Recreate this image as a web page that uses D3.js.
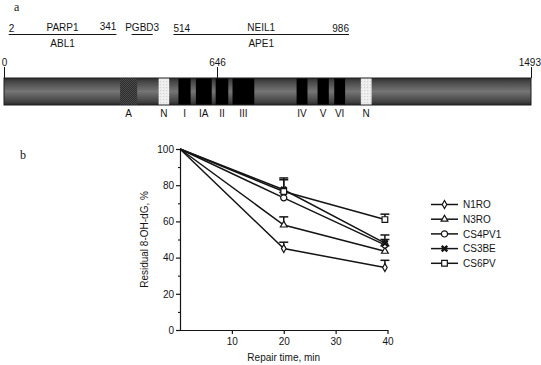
<!DOCTYPE html>
<html>
<head>
<meta charset="utf-8">
<script src="https://cdn.jsdelivr.net/npm/d3@7"></script>
<style>
  body { margin: 0; background: #fff; }
  svg { display: block; font-family: "Liberation Sans", Arial, sans-serif; }
</style>
</head>
<body>
<script>
// ---- panel a: protein map ----
const protLength = 1493;
const protTicks = [0, 646, 1493];
// segments in amino-acid coordinates
const segNames = ['A', 'N', 'I', 'IA', 'II', 'III', 'IV', 'V', 'VI', 'N'];
const segStart = [352, 469, 529, 582, 642, 686, 851, 905, 948, 1019];
const segEnd   = [404, 501, 566, 630, 675, 742, 879, 934, 976, 1049];
const segKind  = ['hatch', 'light', 'black', 'black', 'black', 'black', 'black', 'black', 'black', 'light'];
// interaction regions drawn above the bar
const partnerStart = [2, 387, 514];
const partnerEnd   = [341, 451, 986];
const partnerTop   = ['PARP1', 'PGBD3', 'NEIL1'];
const partnerBottom = ['ABL1', '', 'APE1'];
const partnerShowEnds = [true, false, true];

// ---- panel b: repair kinetics ----
const times = [0, 20, 39.5];
const seriesNames = ['N1RO', 'N3RO', 'CS4PV1', 'CS3BE', 'CS6PV'];
const n1ro   = [100, 45, 34.5];
const n3ro   = [100, 58, 43.5];
const cs4pv1 = [100, 73, 47];
const cs3be  = [100, 77.5, 48];
const cs6pv  = [100, 76.5, 61];
const errN1ro = [0, 3.5, 4];
const errN3ro = [0, 4.5, 3];
const errCs4pv1 = [0, 3, 3];
const errCs3be = [0, 6.5, 4.5];
const errCs6pv = [0, 6.5, 3];
const xTicks = [10, 20, 30, 40];
const yTicks = [0, 20, 40, 60, 80, 100];

const ink = '#141414';
const svg = d3.select('body').append('svg').attr('width', 541).attr('height', 365);

const defs = svg.append('defs');
const grad = defs.append('linearGradient').attr('id', 'barGrad')
  .attr('x1', 0).attr('y1', 0).attr('x2', 0).attr('y2', 1);
[[0, '#2b2b2b'], [0.12, '#444'], [0.5, '#757575'], [0.88, '#424242'], [1, '#262626']]
  .forEach(([o, c]) => grad.append('stop').attr('offset', o).attr('stop-color', c));
const hatch = defs.append('pattern').attr('id', 'hatch')
  .attr('width', 2).attr('height', 2).attr('patternUnits', 'userSpaceOnUse');
hatch.append('rect').attr('width', 2).attr('height', 2).attr('fill', '#2e2e2e');
hatch.append('rect').attr('width', 1).attr('height', 1).attr('fill', '#4a4a4a');
hatch.append('rect').attr('x', 1).attr('y', 1).attr('width', 1).attr('height', 1).attr('fill', '#4a4a4a');
const speck = defs.append('pattern').attr('id', 'speck')
  .attr('width', 3).attr('height', 3).attr('patternUnits', 'userSpaceOnUse');
speck.append('rect').attr('width', 3).attr('height', 3).attr('fill', '#ececec');
speck.append('rect').attr('x', 1).attr('y', 0).attr('width', 1).attr('height', 1).attr('fill', '#d4d4d4');
speck.append('rect').attr('x', 0).attr('y', 2).attr('width', 1).attr('height', 1).attr('fill', '#fafafa');

// map is not drawn strictly to scale in the original, so piecewise
const px = d3.scaleLinear().domain([0, 646, 986, protLength]).range([4, 217, 349, 531]);
const barTop = 78, barBottom = 105;

svg.append('text').attr('x', 14).attr('y', 11)
  .attr('font-family', '"Liberation Serif", "DejaVu Serif", serif')
  .attr('font-size', 12).attr('fill', ink).text('a');

const partners = svg.append('g').attr('font-size', 10).attr('fill', ink);
partnerStart.forEach((s, i) => {
  const x0 = px(s), x1 = px(partnerEnd[i]);
  const lx0 = i === 0 ? x0 + 4 : x0;
  partners.append('line').attr('x1', lx0).attr('x2', x1).attr('y1', 34.5).attr('y2', 34.5)
    .attr('stroke', ink).attr('stroke-width', 1);
  partners.append('text').attr('x', (lx0 + x1) / 2).attr('y', 31)
    .attr('text-anchor', 'middle').text(partnerTop[i]);
  if (partnerBottom[i]) {
    partners.append('text').attr('x', (lx0 + x1) / 2).attr('y', 47)
      .attr('text-anchor', 'middle').text(partnerBottom[i]);
  }
  if (partnerShowEnds[i]) {
    partners.append('text').attr('x', lx0).attr('y', 31.5).text(s);
    partners.append('text').attr('x', x1).attr('y', i === 0 ? 30 : 31.5)
      .attr('text-anchor', 'end').text(partnerEnd[i]);
  }
});

// bar body
svg.append('rect').attr('x', px(0)).attr('y', barTop)
  .attr('width', px(protLength) - px(0)).attr('height', barBottom - barTop)
  .attr('fill', 'url(#barGrad)').attr('stroke', '#1e1e1e').attr('stroke-width', 1);

const fillFor = { hatch: 'url(#hatch)', light: 'url(#speck)', black: '#000' };
svg.append('g').selectAll('rect')
  .data(segNames.map((n, i) => ({ n, s: segStart[i], e: segEnd[i], k: segKind[i] })))
  .join('rect')
  .attr('x', d => px(d.s)).attr('y', barTop + 0.5)
  .attr('width', d => px(d.e) - px(d.s)).attr('height', barBottom - barTop - 1)
  .attr('fill', d => fillFor[d.k]);

svg.append('g').attr('font-size', 10).attr('fill', ink)
  .selectAll('text')
  .data(segNames.map((n, i) => ({ n, s: segStart[i], e: segEnd[i] })))
  .join('text')
  .attr('x', d => (px(d.s) + px(d.e)) / 2).attr('y', 116.5)
  .attr('text-anchor', 'middle').text(d => d.n);

// position ticks above the bar
const pt = svg.append('g').attr('font-size', 10).attr('fill', ink);
protTicks.forEach((t, i) => {
  const x = Math.round(px(t)) + 0.5;
  pt.append('line').attr('x1', x).attr('x2', x).attr('y1', 67).attr('y2', barTop)
    .attr('stroke', ink).attr('stroke-width', 1);
  pt.append('text').attr('x', i === protTicks.length - 1 ? 541 : x).attr('y', 65.5)
    .attr('text-anchor', i === 0 ? 'middle' : (i === protTicks.length - 1 ? 'end' : 'middle'))
    .text(t);
});

// ---- panel b ----
svg.append('text').attr('x', 20).attr('y', 159)
  .attr('font-family', '"Liberation Serif", "DejaVu Serif", serif')
  .attr('font-size', 12).attr('fill', ink).text('b');

const x = d3.scaleLinear().domain([0, 40]).range([180, 387.5]);
const y = d3.scaleLinear().domain([0, 100]).range([330, 149]);

const gy = svg.append('g').attr('transform', `translate(${x(0)},0)`)
  .call(d3.axisLeft(y).tickValues(yTicks).tickSize(4).tickPadding(2));
svg.append('g').attr('transform', `translate(${x(0)},0)`)
  .call(d3.axisLeft(y).tickValues([10, 30, 50, 70, 90]).tickSize(2).tickFormat(''))
  .call(g => g.select('.domain').remove());
const gx = svg.append('g').attr('transform', `translate(0,${y(0)})`)
  .call(d3.axisBottom(x).tickValues(xTicks).tickSize(4).tickPadding(4).tickSizeOuter(0));
[gy, gx].forEach(g => {
  g.selectAll('text').attr('font-size', 10).attr('fill', ink)
    .attr('font-family', '"Liberation Sans", Arial, sans-serif');
  g.selectAll('line,path').attr('stroke', ink).attr('stroke-width', 1.2);
});

svg.append('text').attr('transform', `translate(148,${y(50)}) rotate(-90)`)
  .attr('text-anchor', 'middle').attr('font-size', 10).attr('fill', ink)
  .text('Residual 8-OH-dG, %');
svg.append('text').attr('x', x(20)).attr('y', 361)
  .attr('text-anchor', 'middle').attr('font-size', 10).attr('fill', ink)
  .text('Repair time, min');

const series = [
  { name: seriesNames[0], v: n1ro, e: errN1ro, sym: d3.symbolDiamond, size: 18 },
  { name: seriesNames[1], v: n3ro, e: errN3ro, sym: d3.symbolTriangle, size: 20 },
  { name: seriesNames[2], v: cs4pv1, e: errCs4pv1, sym: d3.symbolCircle, size: 30 },
  { name: seriesNames[3], v: cs3be, e: errCs3be, sym: d3.symbolTimes, size: 22 },
  { name: seriesNames[4], v: cs6pv, e: errCs6pv, sym: d3.symbolSquare, size: 32 }
];

const line = d3.line().x((d, i) => x(times[i])).y(d => y(d));
const plot = svg.append('g');

// error bars (upper only)
series.forEach(s => {
  s.v.forEach((v, i) => {
    if (!s.e[i]) return;
    const cx = x(times[i]);
    plot.append('line').attr('x1', cx).attr('x2', cx).attr('y1', y(v)).attr('y2', y(v + s.e[i]))
      .attr('stroke', ink).attr('stroke-width', 1.5);
    plot.append('line').attr('x1', cx - 4.5).attr('x2', cx + 4.5)
      .attr('y1', y(v + s.e[i])).attr('y2', y(v + s.e[i]))
      .attr('stroke', ink).attr('stroke-width', 1.5);
  });
});

series.forEach(s => {
  plot.append('path').attr('d', line(s.v)).attr('fill', 'none')
    .attr('stroke', ink).attr('stroke-width', 1.5);
});

function drawSymbol(g, s, cx, cy) {
  const isX = s.sym === d3.symbolTimes;
  g.append('path').attr('d', d3.symbol(s.sym, s.size)())
    .attr('transform', `translate(${cx},${cy})`)
    .attr('fill', isX ? 'none' : '#fff')
    .attr('stroke', ink).attr('stroke-width', isX ? 2.4 : 1.2);
}

series.forEach(s => {
  s.v.forEach((v, i) => { if (i > 0) drawSymbol(plot, s, x(times[i]), y(v)); });
});

// legend
const leg = svg.append('g').attr('font-size', 10).attr('fill', ink);
series.forEach((s, i) => {
  const ly = 204.5 + i * 14.7;
  leg.append('line').attr('x1', 431).attr('x2', 458).attr('y1', ly).attr('y2', ly)
    .attr('stroke', ink).attr('stroke-width', 1.5);
  drawSymbol(leg, s, 444.5, ly);
  leg.append('text').attr('x', 463).attr('y', ly + 3.6).text(s.name);
});
</script>
</body>
</html>
